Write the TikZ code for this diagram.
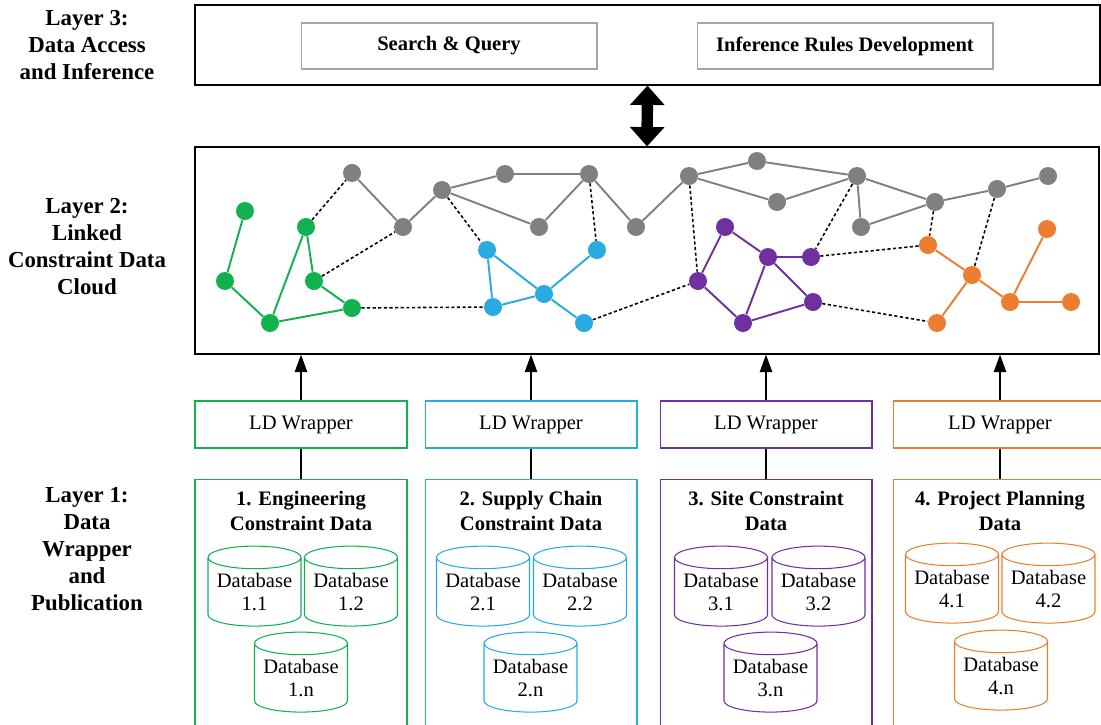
\documentclass[tikz,border=0pt]{standalone}
\usepackage{fontspec}
\setmainfont{Liberation Serif}
\usepackage{tikz}
\usetikzlibrary{arrows.meta,shapes.geometric}
\definecolor{greenx}{HTML}{13B04F}
\definecolor{bluex}{HTML}{29ABE2}
\definecolor{purplex}{HTML}{7030A0}
\definecolor{orangex}{HTML}{ED7D31}
\definecolor{grayx}{HTML}{808080}
\tikzset{
  lbl/.style={font=\fontsize{13}{15.3}\selectfont\bfseries,align=center},
  panel/.style={draw,line width=0.7pt,inner sep=0pt},
  tool/.style={draw=gray!70,line width=0.6pt,minimum width=5.92cm,minimum height=0.92cm,font=\fontsize{11.7}{14}\selectfont\bfseries},
  wrap/.style={draw=#1,line width=0.6pt,minimum height=0.94cm,font=\fontsize{11.7}{14}\selectfont},
  datbox/.style={draw=#1,line width=0.6pt,minimum height=5.5cm,inner sep=0pt},
  ttl/.style={font=\fontsize{11.7}{14.2}\selectfont\bfseries,align=center},
  db/.style={cylinder,shape border rotate=90,draw=#1,line width=0.6pt,aspect=0.3,minimum width=1.86cm,minimum height=1.6cm,inner sep=0pt,align=center,font=\fontsize{11.7}{13.6}\selectfont},
  nd/.style={circle,fill=#1,inner sep=0pt,minimum size=0.36cm},
  ln/.style={#1,line width=1.1pt},
  lk/.style={line width=0.9pt,dash pattern=on 1.8pt off 1.4pt},
  ar/.style={-{Triangle[width=7pt,length=10pt]},line width=1.1pt},
  dbl/.style={{Triangle[width=19pt,length=11pt]}-{Triangle[width=19pt,length=11pt]},line width=6.5pt}
}
\begin{document}
\begin{tikzpicture}[x=0.02cm,y=-0.02cm]
\useasboundingbox (0,0) rectangle (1101,724);
\clip (0,0) rectangle (1101,724);
% layer labels
\node[lbl] (lab3) at (87,45) {Layer 3:\\Data Access\\and Inference};
\node[lbl] (lab2) at (87,246.5) {Layer 2:\\Linked\\Constraint Data\\Cloud};
\node[lbl] (lab1) at (87,549) {Layer 1:\\Data\\Wrapper\\and\\Publication};
% layer 3
\node[panel,minimum width=18.1cm,minimum height=1.6cm] (l3) at (647.5,45) {};
\node[tool] (sq) at (449,46) {Search \& Query};
\node[tool] (ir) at (845,46) {Inference Rules Development};
% layer 2
\node[panel,minimum width=18.08cm,minimum height=4.14cm] (l2) at (647,250.5) {};
\draw[dbl] (l3.south) -- (l2.north);
% layer 1
\foreach \i/\c/\x/\w in {1/greenx/301/4.24,2/bluex/531/4.24,3/purplex/766/4.24,4/orangex/1000/4.28}{
  \node[wrap=\c,minimum width=\w cm] (w\i) at (\x,424.5) {LD Wrapper};
  \node[datbox=\c,minimum width=\w cm,anchor=north] (d\i) at (\x,479) {};
  \draw[line width=1.1pt] (w\i.south) -- (d\i.north);
  \draw[ar] (w\i.north) -- (w\i.north |- l2.south);
}
\node[ttl] (t1) at (301,510.5) {1. Engineering\\Constraint Data};
\node[ttl] (t2) at (531,510.5) {2. Supply Chain\\Constraint Data};
\node[ttl] (t3) at (766,510.5) {3. Site Constraint\\Data};
\node[ttl] (t4) at (1000,510.5) {4. Project Planning\\Data};
\node[db=greenx] (db11) at (254.5,592) {Database\\1.1};
\node[db=greenx] (db12) at (351,592) {Database\\1.2};
\node[db=greenx] (db1n) at (301,678) {Database\\1.n};
\node[db=bluex] (db21) at (483,592) {Database\\2.1};
\node[db=bluex] (db22) at (580,592) {Database\\2.2};
\node[db=bluex] (db2n) at (530.5,678) {Database\\2.n};
\node[db=purplex] (db31) at (721,592) {Database\\3.1};
\node[db=purplex] (db32) at (818.5,592) {Database\\3.2};
\node[db=purplex] (db3n) at (770.5,678) {Database\\3.n};
\node[db=orangex] (db41) at (952,589) {Database\\4.1};
\node[db=orangex] (db42) at (1048.5,589) {Database\\4.2};
\node[db=orangex] (db4n) at (1001,676) {Database\\4.n};
% cloud nodes
\foreach \n/\x/\y in {a1/352/173,a2/403/227,a3/442/190,a4/505/174,a5/539/227,a6/589/174,a7/636/227,a8/689/176,a9/757/161,a10/777/202,a11/857/176,a12/861/227,a13/935/202,a14/997/189,a15/1048/176}
  \node[nd=grayx] (\n) at (\x,\y) {};
\foreach \n/\x/\y in {g1/245/211,g2/225/281,g3/270/323,g4/306/227,g5/314/281,g6/352/308}
  \node[nd=greenx] (\n) at (\x,\y) {};
\foreach \n/\x/\y in {b1/487/250,b2/597/250,b3/544/294,b4/493/307,b5/584/323}
  \node[nd=bluex] (\n) at (\x,\y) {};
\foreach \n/\x/\y in {p1/698/281,p2/725/227,p3/768/257,p4/811/257,p5/813/302,p6/743/323}
  \node[nd=purplex] (\n) at (\x,\y) {};
\foreach \n/\x/\y in {o1/928/245,o2/972/275,o3/937/323,o4/1047/229,o5/1010/302,o6/1071/302}
  \node[nd=orangex] (\n) at (\x,\y) {};
% cloud links
\foreach \a/\b in {a1/a2,a2/a3,a3/a4,a4/a6,a3/a5,a5/a6,a6/a7,a7/a8,a8/a9,a9/a11,a8/a10,a10/a11,a11/a12,a11/a13,a12/a13,a13/a14,a14/a15}
  \draw[ln=grayx] (\a) -- (\b);
\foreach \a/\b in {g1/g2,g2/g3,g3/g4,g4/g5,g5/g6,g3/g6}
  \draw[ln=greenx] (\a) -- (\b);
\foreach \a/\b in {b1/b4,b1/b3,b3/b2,b3/b4,b3/b5}
  \draw[ln=bluex] (\a) -- (\b);
\foreach \a/\b in {p1/p2,p2/p3,p3/p4,p3/p5,p3/p6,p1/p6,p6/p5}
  \draw[ln=purplex] (\a) -- (\b);
\foreach \a/\b in {o1/o2,o2/o3,o2/o5,o5/o4,o5/o6}
  \draw[ln=orangex] (\a) -- (\b);
\foreach \a/\b in {g4/a1,g5/a2,g6/b4,a3/b1,a6/b2,b5/p1,a8/p1,a11/p4,p4/o1,p5/o3,a13/o1,a14/o2}
  \draw[lk] (\a) -- (\b);
\end{tikzpicture}
\end{document}
